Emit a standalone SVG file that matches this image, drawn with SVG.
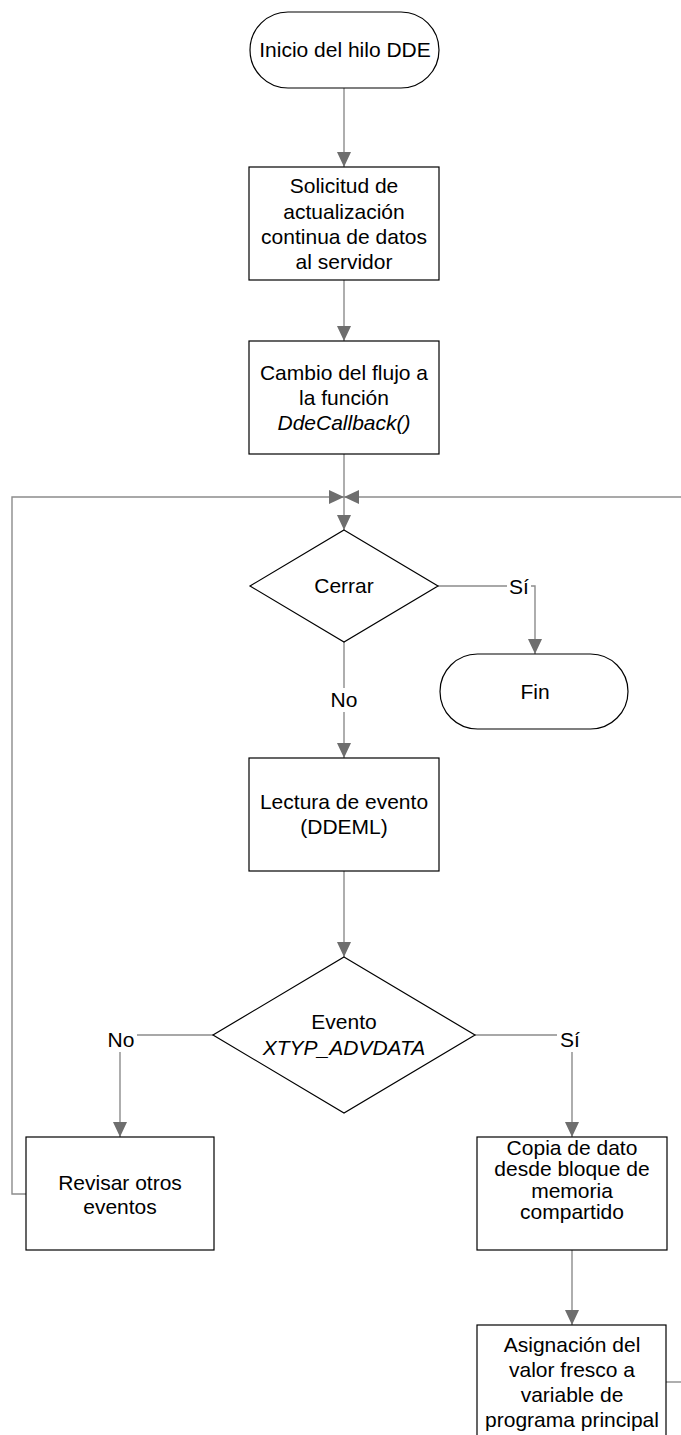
<svg xmlns="http://www.w3.org/2000/svg" width="681" height="1435" viewBox="0 0 681 1435">
<style>
.shape{fill:#fff;stroke:#000;stroke-width:1.2}
.t{font-family:"Liberation Sans",Arial,sans-serif;font-size:21px;fill:#000;text-anchor:middle}
.i{font-style:italic}
.c{fill:none;stroke:#8c8c8c;stroke-width:1.4}
.lb{fill:#fff;stroke:none}
</style>
<defs>
<marker id="ah" markerUnits="userSpaceOnUse" markerWidth="16" markerHeight="16" viewBox="0 0 16 16" refX="15" refY="8" orient="auto">
<path d="M0,1 L15,8 L0,15 Z" fill="#6e6e6e"/>
</marker>
</defs>
<rect width="681" height="1435" fill="#fff"/>
<g id="connectors">
<path class="c" d="M344,88 V167" marker-end="url(#ah)"/>
<path class="c" d="M344,280 V341" marker-end="url(#ah)"/>
<path class="c" d="M344,454 V530" marker-end="url(#ah)"/>
<path class="c" d="M26,1194 H12 V497 H344" marker-end="url(#ah)"/>
<path class="c" d="M681,497 H344" marker-end="url(#ah)"/>
<path class="c" d="M438,586 H535 V654" marker-end="url(#ah)"/>
<path class="c" d="M344,642 V758" marker-end="url(#ah)"/>
<path class="c" d="M344,871 V957" marker-end="url(#ah)"/>
<path class="c" d="M213,1035 H120 V1137" marker-end="url(#ah)"/>
<path class="c" d="M475,1035 H572 V1137" marker-end="url(#ah)"/>
<path class="c" d="M572,1250 V1325" marker-end="url(#ah)"/>
<path class="c" d="M666,1382 H681"/>
<rect class="lb" x="507" y="576" width="24" height="22"/>
<text class="t" x="519" y="594">Sí</text>
<rect class="lb" x="329" y="688" width="30" height="24"/>
<text class="t" x="344" y="707">No</text>
<rect class="lb" x="105" y="1028" width="32" height="24"/>
<text class="t" x="121" y="1047">No</text>
<rect class="lb" x="557" y="1028" width="26" height="24"/>
<text class="t" x="570" y="1047">Sí</text>
</g>
<g id="inicio">
<rect class="shape" x="250" y="12" width="189" height="76" rx="38" ry="38"/>
<text class="t" x="345" y="57">Inicio del hilo DDE</text>
</g>
<g id="solicitud">
<rect class="shape" x="249" y="167" width="190" height="113"/>
<text class="t" x="344" y="193">Solicitud de</text>
<text class="t" x="344" y="219">actualización</text>
<text class="t" x="344" y="244">continua de datos</text>
<text class="t" x="344" y="269">al servidor</text>
</g>
<g id="cambio">
<rect class="shape" x="249" y="341" width="190" height="113"/>
<text class="t" x="344" y="380">Cambio del flujo a</text>
<text class="t" x="344" y="405">la función</text>
<text class="t i" x="344" y="430">DdeCallback()</text>
</g>
<g id="cerrar">
<polygon class="shape" points="344,530 438,586 344,642 250,586"/>
<text class="t" x="344" y="593">Cerrar</text>
</g>
<g id="fin">
<rect class="shape" x="440" y="654" width="188" height="75" rx="37.5" ry="37.5"/>
<text class="t" x="535" y="699">Fin</text>
</g>
<g id="lectura">
<rect class="shape" x="249" y="758" width="190" height="113"/>
<text class="t" x="344" y="809">Lectura de evento</text>
<text class="t" x="344" y="834">(DDEML)</text>
</g>
<g id="evento">
<polygon class="shape" points="344,957 475,1035 344,1113 213,1035"/>
<text class="t" x="344" y="1029">Evento</text>
<text class="t i" x="344" y="1055">XTYP_ADVDATA</text>
</g>
<g id="revisar">
<rect class="shape" x="26" y="1137" width="188" height="113"/>
<text class="t" x="120" y="1190">Revisar otros</text>
<text class="t" x="120" y="1214">eventos</text>
</g>
<g id="copia">
<rect class="shape" x="477" y="1137" width="190" height="113"/>
<text class="t" x="572" y="1155">Copia de dato</text>
<text class="t" x="572" y="1176">desde bloque de</text>
<text class="t" x="572" y="1198">memoria</text>
<text class="t" x="572" y="1219">compartido</text>
</g>
<g id="asignacion">
<rect class="shape" x="477" y="1325" width="189" height="120"/>
<text class="t" x="572" y="1352">Asignación del</text>
<text class="t" x="572" y="1377">valor fresco a</text>
<text class="t" x="572" y="1402">variable de</text>
<text class="t" x="572" y="1427">programa principal</text>
</g>
</svg>
